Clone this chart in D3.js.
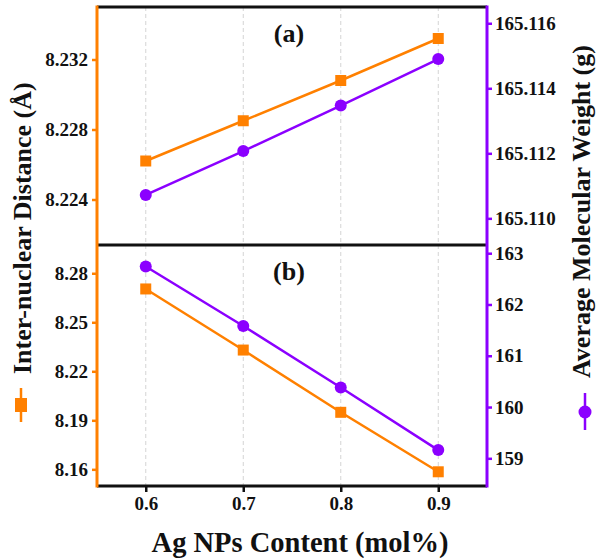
<!DOCTYPE html>
<html>
<head>
<meta charset="utf-8">
<script src="https://cdn.jsdelivr.net/npm/d3@7"></script>
<style>
  body { margin: 0; background: #fff; }
  svg text { font-family: "Liberation Serif", "Times New Roman", serif; font-weight: bold; fill: #111; }
</style>
</head>
<body>
<svg id="chart" width="596" height="558"></svg>
<script>
// Ag NPs content (mol%)
const content = [0.6, 0.7, 0.8, 0.9];

// panel (a)
const distA = [8.2262, 8.2285, 8.2308, 8.2332];
const weightA = [165.11072, 165.11207, 165.11347, 165.1149];

// panel (b)
const distB = [8.2704, 8.2330, 8.1949, 8.1585];
const weightB = [162.74, 161.58, 160.38, 159.16];

// tick labels
const xTicks = [0.6, 0.7, 0.8, 0.9];
const distTicksA = [8.224, 8.228, 8.232];
const weightTicksA = [165.110, 165.112, 165.114, 165.116];
const distTicksB = [8.16, 8.19, 8.22, 8.25, 8.28];
const weightTicksB = [159, 160, 161, 162, 163];

const orange = '#FF8000',
    purple = '#8B00FF';

let svg = d3.select('svg#chart'),
    left = 97, right = 487,
    yTop = 7, yMid = 245, yBottom = 486;

let xScale = d3.scaleLinear().domain([0.55, 0.95]).range([left, right]);

let panels = [
    {label: '(a)', y0: yTop, y1: yMid, dist: distA, weight: weightA,
     dDomain: [8.2214, 8.2350], wDomain: [165.10918, 165.1165],
     dTicks: distTicksA, wTicks: weightTicksA, dFmt: '.3f', wFmt: '.3f'},
    {label: '(b)', y0: yMid, y1: yBottom, dist: distB, weight: weightB,
     dDomain: [8.1498, 8.2973], wDomain: [158.46, 163.16],
     dTicks: distTicksB, wTicks: weightTicksB, dFmt: '.2f', wFmt: 'd'}
];

panels.forEach(function (p) {
    let g = svg.append('g');
    let yD = d3.scaleLinear().domain(p.dDomain).range([p.y1, p.y0]);
    let yW = d3.scaleLinear().domain(p.wDomain).range([p.y1, p.y0]);

    // dashed grid
    g.selectAll('line.grid')
        .data(xTicks)
        .enter().append('line')
        .attr('x1', d => xScale(d)).attr('x2', d => xScale(d))
        .attr('y1', p.y0).attr('y2', p.y1)
        .attr('stroke', '#d4d4d4').attr('stroke-width', 1)
        .attr('stroke-dasharray', '4,3');

    // left axis
    let la = g.append('g')
        .attr('transform', 'translate(' + left + ',0)')
        .call(d3.axisLeft(yD).tickValues(p.dTicks).tickFormat(d3.format(p.dFmt))
            .tickSize(5).tickSizeOuter(0).tickPadding(4));
    la.select('.domain').remove();
    la.selectAll('line').attr('stroke', orange).attr('stroke-width', 2.5);
    la.selectAll('text').style('font-size', '19px').attr('fill', '#111');

    // right axis
    let ra = g.append('g')
        .attr('transform', 'translate(' + right + ',0)')
        .call(d3.axisRight(yW).tickValues(p.wTicks).tickFormat(d3.format(p.wFmt))
            .tickSize(5).tickSizeOuter(0).tickPadding(3));
    ra.select('.domain').remove();
    ra.selectAll('line').attr('stroke', purple).attr('stroke-width', 2.5);
    ra.selectAll('text').style('font-size', '19px').attr('fill', '#111');

    // lines
    let lineD = d3.line().x((d, i) => xScale(content[i])).y(d => yD(d));
    let lineW = d3.line().x((d, i) => xScale(content[i])).y(d => yW(d));

    g.append('path').datum(p.dist)
        .attr('d', lineD).attr('fill', 'none')
        .attr('stroke', orange).attr('stroke-width', 2.5);
    g.append('path').datum(p.weight)
        .attr('d', lineW).attr('fill', 'none')
        .attr('stroke', purple).attr('stroke-width', 2.5);

    g.selectAll('rect.pt')
        .data(p.dist)
        .enter().append('rect')
        .attr('class', 'pt')
        .attr('x', (d, i) => xScale(content[i]) - 5.5)
        .attr('y', d => yD(d) - 5.5)
        .attr('width', 11).attr('height', 11)
        .attr('fill', orange);
    g.selectAll('circle.pt')
        .data(p.weight)
        .enter().append('circle')
        .attr('class', 'pt')
        .attr('cx', (d, i) => xScale(content[i]))
        .attr('cy', d => yW(d))
        .attr('r', 6)
        .attr('fill', purple);

    g.append('text')
        .attr('x', (left + right) / 2 - 3)
        .attr('y', p.y0 + 35)
        .attr('text-anchor', 'middle')
        .style('font-size', '26px')
        .text(p.label);
});

// x axis (bottom)
let xa = svg.append('g')
    .attr('transform', 'translate(0,' + yBottom + ')')
    .call(d3.axisBottom(xScale).tickValues(xTicks).tickFormat(d3.format('.1f'))
        .tickSize(6).tickSizeOuter(0).tickPadding(5));
xa.select('.domain').remove();
xa.selectAll('line').attr('stroke', '#111').attr('stroke-width', 2.5);
xa.selectAll('text').style('font-size', '19px').attr('fill', '#111');

// frame lines
[yTop, yMid, yBottom].forEach(function (y) {
    svg.append('line')
        .attr('x1', left).attr('x2', right)
        .attr('y1', y).attr('y2', y)
        .attr('stroke', '#111').attr('stroke-width', 3);
});
svg.append('line')
    .attr('x1', left).attr('x2', left).attr('y1', yTop - 1.5).attr('y2', yBottom + 1.5)
    .attr('stroke', orange).attr('stroke-width', 3);
svg.append('line')
    .attr('x1', right).attr('x2', right).attr('y1', yTop - 1.5).attr('y2', yBottom + 1.5)
    .attr('stroke', purple).attr('stroke-width', 3);

// x title
svg.append('text')
    .attr('x', (left + right) / 2 + 8)
    .attr('y', 552)
    .attr('text-anchor', 'middle')
    .style('font-size', '28.5px')
    .text('Ag NPs Content (mol%)');

// left title + legend key
let lk = svg.append('g').attr('transform', 'translate(21,405)');
lk.append('line').attr('x1', 0).attr('x2', 0).attr('y1', -17).attr('y2', 17)
    .attr('stroke', orange).attr('stroke-width', 2.5);
lk.append('rect').attr('x', -6).attr('y', -7).attr('width', 12).attr('height', 14)
    .attr('fill', orange);
svg.append('text')
    .attr('transform', 'translate(31,374) rotate(-90)')
    .attr('text-anchor', 'start')
    .style('font-size', '26px')
    .text('Inter-nuclear Distance (Å)');

// right title + legend key
let rk = svg.append('g').attr('transform', 'translate(585,412)');
rk.append('line').attr('x1', 0).attr('x2', 0).attr('y1', -19).attr('y2', 18)
    .attr('stroke', purple).attr('stroke-width', 2.5);
rk.append('circle').attr('r', 6.5).attr('fill', purple);
svg.append('text')
    .attr('transform', 'translate(590,378) rotate(-90)')
    .attr('text-anchor', 'start')
    .style('font-size', '26px')
    .text('Average Molecular Weight (g)');
</script>
</body>
</html>
